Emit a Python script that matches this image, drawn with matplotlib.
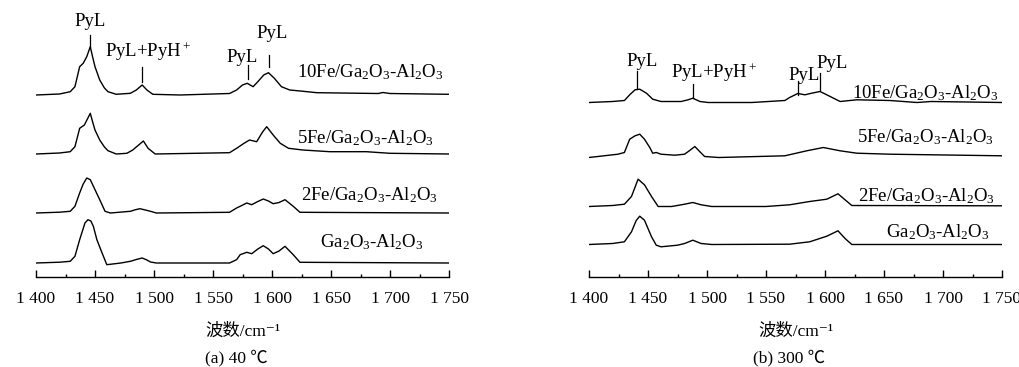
import matplotlib
matplotlib.use('Agg')
import matplotlib.pyplot as plt
from matplotlib.ticker import MultipleLocator, FuncFormatter

plt.rcParams['font.family'] = ['Liberation Serif', 'Noto Sans CJK SC', 'DejaVu Sans']
plt.rcParams['mathtext.fontset'] = 'custom'
plt.rcParams['mathtext.rm'] = 'Liberation Serif'
plt.rcParams['mathtext.it'] = 'Liberation Serif:italic'

# ---- data (wavenumber, relative intensity) ----
samples = ['10Fe/Ga$_2$O$_3$-Al$_2$O$_3$', '5Fe/Ga$_2$O$_3$-Al$_2$O$_3$',
           '2Fe/Ga$_2$O$_3$-Al$_2$O$_3$', 'Ga$_2$O$_3$-Al$_2$O$_3$']

# (a) 40 C
a_10fe_wn = [1400, 1420, 1429, 1433, 1437, 1440, 1443, 1446, 1448, 1450, 1454, 1458, 1461, 1468, 1480,
             1485, 1490, 1494, 1499, 1522, 1564, 1570, 1575, 1579, 1584, 1588, 1593, 1597, 1602, 1608,
             1615, 1624, 1638, 1677, 1690, 1694, 1700, 1750]
a_10fe_i = [0, 1, 3.3, 8.3, 28.3, 31.7, 38.3, 48.3, 38, 28.3, 15, 7, 3.3, 0.7, 1.7,
            5, 10, 5, 0.7, 0, 1.5, 5, 10, 11.7, 8.3, 13.3, 20, 22.3, 16.7, 8.3,
            5, 4, 2.3, 1.7, 1.5, 2.5, 1.5, 0.7]
a_5fe_wn = [1400, 1420, 1429, 1433, 1437, 1441, 1446, 1448, 1450, 1454, 1458, 1461, 1468, 1477, 1482,
            1491, 1495, 1501, 1564, 1570, 1576, 1581, 1587, 1592, 1595.5, 1601, 1607, 1614, 1626, 1649,
            1680, 1700, 1750]
a_5fe_i = [0, 1, 2.3, 7.3, 25.7, 29, 40.7, 32, 24, 14, 7, 3.3, 0, 0.7, 4,
           13, 5.7, 0, 1.3, 5.7, 10.5, 14, 12.3, 22, 27.3, 19, 10.7, 5.7, 4, 2.3,
           2.3, 0.7, 0]
a_2fe_wn = [1400, 1420, 1429, 1433, 1437, 1440, 1443, 1446, 1450, 1454, 1458.5, 1463, 1480, 1484,
            1488, 1492, 1497, 1502, 1564, 1570, 1573, 1578.6, 1582.8, 1588, 1592.6, 1597, 1601, 1606,
            1611, 1618, 1623.7, 1750]
a_2fe_i = [0, 0.8, 1.7, 6.7, 20, 29, 35, 33.3, 23.3, 13.3, 1.7, 0, 1.7, 3.2,
           4.3, 3.2, 1.7, 0, 0.7, 5, 6.7, 10, 8.3, 11.5, 14, 12, 9.3, 10.5,
           13.3, 6.7, 0.7, 0]
a_ga_wn = [1400, 1420, 1429, 1433, 1437, 1441.5, 1444, 1446.5, 1448.6, 1451.6, 1456, 1460, 1472, 1480,
           1485, 1490, 1494, 1497, 1502, 1564, 1570, 1573, 1578.6, 1582.8, 1588, 1592.6, 1597, 1601,
           1606, 1611, 1618, 1623.7, 1750]
a_ga_i = [0, 0.8, 1.7, 6.7, 23.3, 40, 43.3, 42, 36.7, 23.3, 10, -1.7, 0, 1.7,
          3.5, 5, 3, 1, 0, 0, 3.3, 8.3, 10.7, 9.3, 14, 17.3, 14, 9.3,
          12, 16.7, 8.3, 0.7, 0]

# (b) 300 C
b_10fe_wn = [1400, 1420, 1430, 1434.5, 1439, 1443, 1448.7, 1454, 1461, 1478, 1484, 1488, 1494, 1501,
             1538, 1566, 1570, 1577, 1583, 1588.7, 1595.8, 1601.5, 1612.8, 1627, 1655, 1678, 1690, 1750]
b_10fe_i = [0, 1, 2, 7.7, 12.7, 13.3, 9.3, 3.3, 1, 1, 2.7, 4.3, 1, 0,
            0, 2, 5, 9, 7.7, 9.3, 11, 7.7, 1, 2.7, 2, 0, 1, 0]
b_5fe_wn = [1400, 1424.6, 1430, 1434.5, 1439, 1443, 1447, 1451.5, 1454, 1457, 1461, 1472.7, 1481,
            1485, 1489.7, 1494, 1498, 1510, 1566, 1584.5, 1598.6, 1612.8, 1627, 1655, 1750]
b_5fe_i = [0, 3.3, 5, 18.3, 21.7, 23.3, 18.3, 10, 4.3, 5, 3.3, 2.3, 3.3,
           6.7, 11, 5.7, 1, 0, 1.7, 6.7, 10, 6.7, 4.3, 3.3, 1.7]
b_2fe_wn = [1400, 1420, 1430, 1436, 1441.6, 1447, 1453, 1458.6, 1470, 1481, 1488, 1495, 1504, 1550,
            1570, 1587, 1601.5, 1611, 1617, 1622.7, 1750]
b_2fe_i = [0, 1, 2.3, 10, 27.3, 21.7, 10, 0, 0, 2.3, 4, 1.7, 0, 0,
           1.7, 5, 7.3, 12.7, 6.7, 1, 0.7]
b_ga_wn = [1400, 1420, 1430, 1436, 1440, 1443, 1447, 1453, 1457, 1461, 1475, 1481, 1488, 1495, 1504,
           1570, 1587, 1601.5, 1611, 1617, 1622.7, 1750]
b_ga_i = [0, 1, 2.7, 12.7, 24, 28.3, 24.3, 7.7, -0.7, -2.3, -0.7, 1, 4.3, 1, 0,
          0.3, 2.7, 8.3, 13.7, 6, 0, 0]

# peak assignments
peak_labels = ['PyL', 'PyL+PyH$^+$', 'PyL', 'PyL']
captions = ['(a) 40 ℃', '(b) 300 ℃']

# ---- layout ----
panels = [
    dict(curves=[(a_10fe_wn, a_10fe_i), (a_5fe_wn, a_5fe_i), (a_2fe_wn, a_2fe_i), (a_ga_wn, a_ga_i)],
         offsets=[182, 123, 64, 14],
         name_xy=[(1683, 205), (1679, 139), (1683, 82), (1685, 35)],
         peak_wn=[1446, 1490, 1579.5, 1597.5],
         tick_y=[(230, 242), (195, 210), (198, 212), (210, 222)],
         label_xy=[(1446, 255), (1495, 225), (1575, 220), (1600, 244)],
         left=36, right=449),
    dict(curves=[(b_10fe_wn, b_10fe_i), (b_5fe_wn, b_5fe_i), (b_2fe_wn, b_2fe_i), (b_ga_wn, b_ga_i)],
         offsets=[174.5, 119.5, 70.5, 32.5],
         name_xy=[(1685, 184), (1685, 140), (1686, 81), (1696, 45)],
         peak_wn=[1441, 1488.5, 1577.5, 1596],
         tick_y=[(188, 206), (179, 193), (182, 196.5), (187, 204)],
         label_xy=[(1445, 216), (1506, 204), (1582, 202), (1606, 214)],
         left=589, right=1002),
]

W, H = 1020, 367
fig = plt.figure(figsize=(W / 100, H / 100), dpi=100)
axis_px = 277

tick_fmt = FuncFormatter(lambda v, p: '{:,.0f}'.format(v).replace(',', ' '))

for k, pan in enumerate(panels):
    ax = fig.add_axes([pan['left'] / W, 1 - axis_px / H, (pan['right'] - pan['left']) / W, axis_px / H])
    ax.set_xlim(1400, 1750)
    ax.set_ylim(0, axis_px)
    for (wn, inten), off in zip(pan['curves'], pan['offsets']):
        ax.plot(wn, [v + off for v in inten], color='black', lw=1.0, solid_joinstyle='round')
    for name, (x, y) in zip(samples, pan['name_xy']):
        ax.text(x, y, name, ha='center', va='center', fontsize=13.5)
    for lab, x, (y0, y1), (lx, ly) in zip(peak_labels, pan['peak_wn'], pan['tick_y'], pan['label_xy']):
        ax.plot([x, x], [y0, y1], color='black', lw=0.9)
        ax.text(lx, ly, lab, ha='center', va='center', fontsize=13.5)
    for s in ['left', 'right', 'top']:
        ax.spines[s].set_visible(False)
    ax.spines['bottom'].set_linewidth(1.0)
    ax.set_yticks([])
    ax.xaxis.set_major_locator(MultipleLocator(50))
    ax.xaxis.set_minor_locator(MultipleLocator(25))
    ax.xaxis.set_major_formatter(tick_fmt)
    ax.tick_params(axis='x', which='major', direction='in', length=5, width=1.0, labelsize=12.5, pad=10)
    ax.tick_params(axis='x', which='minor', direction='in', length=2.5, width=1.0)
    ax.set_xlabel('波数/cm⁻¹', fontsize=12.5, labelpad=12)
    ax.text(0.485, -0.292, captions[k], transform=ax.transAxes, ha='center', va='center', fontsize=12.5)

fig.savefig('out.png', dpi=100)
